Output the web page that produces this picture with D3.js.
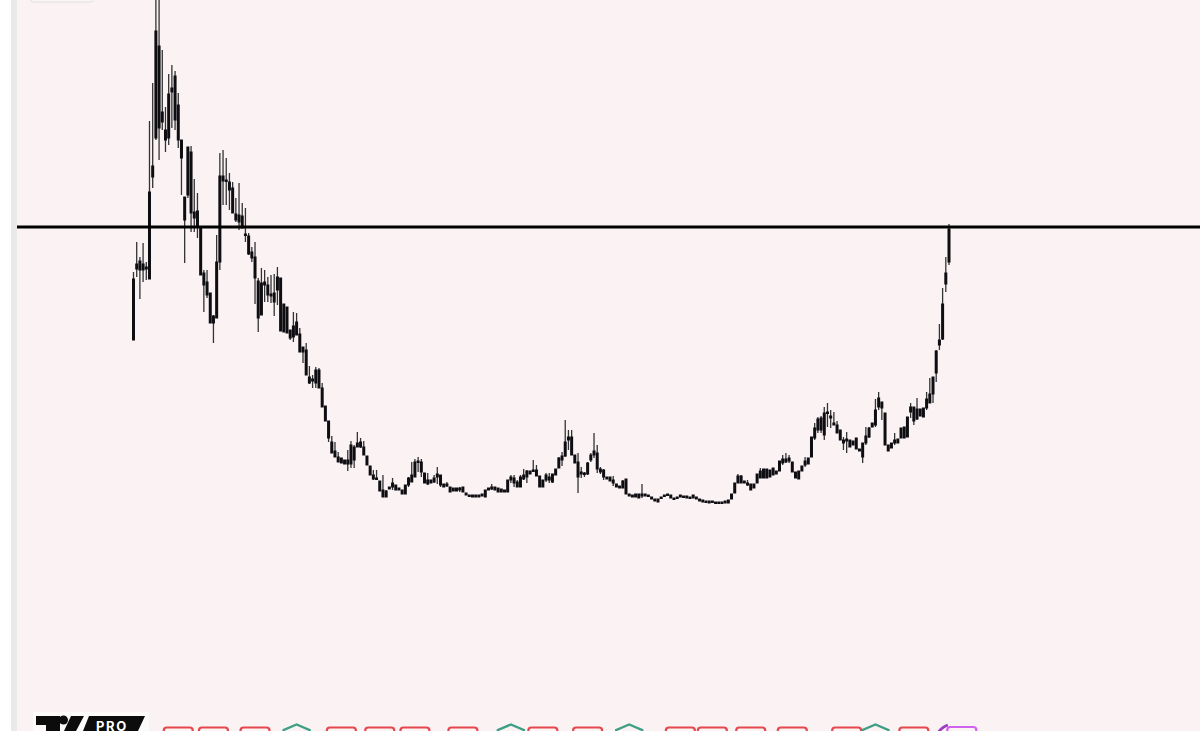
<!DOCTYPE html>
<html>
<head>
<meta charset="utf-8">
<script src="https://cdn.jsdelivr.net/npm/d3@7/dist/d3.min.js"></script>
<style>
  html, body { margin: 0; padding: 0; background: #fff; overflow: hidden; }
  svg { display: block; }
</style>
</head>
<body>
<script>
// candle values, arbitrary price units
const highs = [
  328,358,343,357,338,479,517,605,605,550,
  493,526,535,529,507,460,403,453,454,421,
  407,373,330,330,307,285,365,447,450,442,
  427,418,402,417,397,392,367,353,358,322,
  332,330,323,325,326,333,322,296,293,270,
  288,287,272,253,257,234,225,233,232,217,
  194,179,164,158,148,142,140,150,159,155,
  168,162,159,144,134,130,130,119,125,110,
  113,122,115,112,110,115,123,138,141,143,
  141,127,127,120,125,133,125,116,118,113,
  112,112,113,113,107,105,105,105,105,106,
  110,112,116,113,112,111,110,120,125,125,
  120,125,131,130,129,140,135,124,120,127,
  127,126,131,143,148,180,170,170,145,147,
  133,128,138,147,167,155,133,131,123,123,
  124,116,114,120,121,106,105,106,106,116,
  106,105,103,101,101,103,105,106,105,102,
  103,105,104,104,103,105,103,
  101,100,99,99,99,98,98,98,99,100,
  106,117,126,125,119,120,116,116,126,132,131,131,130,
  132,129,139,145,147,145,138,128,129,134,
  143,142,163,177,183,184,193,197,190,188,
  179,170,163,168,160,159,162,151,157,173,
  173,177,201,208,198,187,155,157,167,161,
  172,173,183,197,193,202,191,192,208,222,
  223,250,276,312,343,376
];
const closes = [
  321,336,339,336,333,408,434,569,554,488,
  470,506,512,524,495,460,403,453,448,388,
  389,373,327,318,307,284,338,424,424,420,
  418,412,386,385,384,366,364,348,343,319,
  317,318,315,306,307,323,322,296,293,270,
  274,278,266,253,250,223,221,230,230,212,
  194,179,158,149,143,142,140,140,155,153,
  157,158,153,144,134,125,122,119,110,109,
  113,117,115,112,110,115,122,125,138,139,
  138,127,120,120,122,126,125,116,116,113,
  112,112,112,113,107,105,105,105,105,106,
  110,112,113,113,112,111,110,120,123,122,
  118,123,125,129,129,130,130,124,120,125,
  123,126,131,142,144,158,163,163,145,138,
  128,127,137,145,149,147,131,130,123,123,
  120,116,114,119,121,106,105,106,106,106,
  106,105,103,101,101,103,105,106,105,102,
  103,105,104,104,103,105,103,
  101,100,99,99,99,98,98,98,99,100,
  106,117,124,124,119,117,116,116,126,129,131,131,130,
  132,129,139,141,141,142,138,128,129,134,
  139,142,163,172,181,182,187,188,184,177,
  175,170,160,161,160,159,162,151,157,164,
  172,177,190,202,198,187,155,157,160,161,
  172,173,183,193,193,191,191,192,201,206,
  223,249,260,296,327,371
];
const opens = [
  260,331,330,330,331,321,423,462,472,478,
  460,462,508,480,460,442,380,405,387,382,
  373,325,315,305,277,277,282,338,419,419,
  410,387,380,378,372,365,346,342,322,282,
  285,315,305,304,298,310,269,268,267,262,
  263,265,248,248,225,217,219,217,212,193,
  179,162,147,143,138,137,136,136,136,140,
  153,153,145,135,125,121,121,109,103,103,
  111,113,110,110,106,106,115,118,123,138,
  128,117,116,117,118,123,115,113,114,108,
  109,109,110,108,105,104,103,103,103,104,
  103,110,111,110,108,108,108,108,120,117,
  113,113,121,123,126,129,124,113,113,120,
  120,118,125,132,140,144,160,145,137,123,
  126,126,126,140,145,131,128,123,121,119,
  117,113,112,112,106,104,103,103,102,104,
  104,104,101,99,98,102,104,105,102,101,
  102,103,103,102,102,102,101,
  99,98,98,97,98,97,97,97,97,97,
  101,107,117,117,117,115,110,112,117,122,122,122,123,
  125,126,129,137,138,139,128,122,121,129,
  135,136,143,162,170,170,165,187,182,175,
  167,160,157,159,153,155,151,149,143,157,
  163,173,175,193,192,155,149,152,157,157,
  162,162,163,188,179,181,184,183,192,197,
  206,227,255,261,316,338
];
const lows = [
  260,323,301,318,320,321,412,460,440,470,
  448,455,472,470,452,405,337,402,368,368,
  362,325,288,302,277,257,282,330,395,395,
  390,387,378,370,372,358,345,338,296,268,
  285,298,298,297,284,295,269,268,267,260,
  258,265,248,237,225,216,212,212,212,193,
  179,158,147,143,138,137,136,129,132,132,
  153,152,145,135,125,120,120,109,103,103,
  111,110,110,110,106,106,113,118,123,128,
  123,117,115,117,117,116,113,113,113,108,
  109,109,108,108,105,104,103,103,103,104,
  103,110,110,110,108,108,108,108,117,113,
  113,113,120,117,126,129,124,113,113,118,
  117,117,125,132,134,143,150,145,137,107,
  122,123,125,138,142,127,126,120,121,119,
  114,113,112,112,106,104,103,103,102,102,
  104,104,101,99,98,102,104,105,102,101,
  102,103,103,102,102,102,101,
  99,98,98,97,98,97,97,97,97,97,
  101,107,117,117,117,114,110,112,117,122,122,122,123,
  125,126,129,135,137,137,128,122,121,129,
  133,136,143,160,167,167,160,173,172,175,
  167,160,150,147,153,155,151,149,137,155,
  162,173,173,190,180,155,149,152,155,157,
  162,162,163,182,175,180,184,183,190,197,
  197,218,250,260,308,335
];
const levelPrice = 373; // the horizontal line

// signal markers along the bottom, as candle numbers
const redMarks = [14,25,38,65,77,88,103,128,142,171,181,193,206,223,244];
const greenMarks = [51,118,155,232];
const purpleMarks = [259];

const W = 1200, H = 731;
const stripLeft = 11, plotLeft = 17;

const svg = d3.select('body').append('svg')
  .attr('width', W)
  .attr('height', H);

svg.append('rect').attr('width', W).attr('height', H).attr('fill', '#fff');
svg.append('rect').attr('x', stripLeft).attr('width', plotLeft - stripLeft).attr('height', H).attr('fill', '#e9e9e9');
svg.append('rect').attr('x', plotLeft).attr('width', W - plotLeft).attr('height', H).attr('fill', '#fbf2f3');

// small button cut off by the top edge
svg.append('rect')
  .attr('x', 30.5).attr('y', -20)
  .attr('width', 63).attr('height', 22)
  .attr('rx', 3)
  .attr('fill', '#fbf6f6')
  .attr('stroke', '#e2dfdf');

const xScale = d3.scaleLinear().domain([0, highs.length - 1]).range([133.5, 949]);
const yScale = d3.scaleLinear().domain([100, 600]).range([500, 0]);
const candles = d3.range(highs.length);

const g = svg.append('g');

g.selectAll('line.wick')
  .data(candles)
  .join('line')
  .attr('class', 'wick')
  .attr('x1', d => xScale(d))
  .attr('x2', d => xScale(d))
  .attr('y1', d => yScale(highs[d]))
  .attr('y2', d => yScale(lows[d]))
  .attr('stroke', '#333')
  .attr('stroke-width', 1.3);

g.selectAll('rect.body')
  .data(candles)
  .join('rect')
  .attr('class', 'body')
  .attr('x', d => xScale(d) - 1.5)
  .attr('y', d => yScale(closes[d]) - 0.5)
  .attr('width', 3)
  .attr('height', d => Math.max(2.5, yScale(opens[d]) - yScale(closes[d]) + 1))
  .attr('fill', '#0d0d12');

// horizontal level
svg.append('line')
  .attr('x1', plotLeft).attr('x2', W)
  .attr('y1', yScale(levelPrice)).attr('y2', yScale(levelPrice))
  .attr('stroke', '#000')
  .attr('stroke-width', 3);

// bottom markers, cut off by the window
const markTop = 727.5;
function boxMark(sel, color) {
  sel.attr('x', d => xScale(d) - 14.5)
    .attr('y', markTop)
    .attr('width', 29)
    .attr('height', 20)
    .attr('rx', 3)
    .attr('fill', '#fdf4f4')
    .attr('stroke', color)
    .attr('stroke-width', 2.2);
}
svg.selectAll('rect.red').data(redMarks).join('rect').attr('class', 'red').call(boxMark, '#e5484f');

svg.selectAll('path.green')
  .data(greenMarks)
  .join('path')
  .attr('class', 'green')
  .attr('d', d => {
    const x = xScale(d);
    return `M${x - 13},${H + 2}L${x - 13},${H - 1}L${x},${H - 6.5}L${x + 13},${H - 1}L${x + 13},${H + 2}`;
  })
  .attr('fill', '#fbf2f3')
  .attr('stroke', '#3f9f86')
  .attr('stroke-width', 2.4);

svg.selectAll('path.arc')
  .data(purpleMarks)
  .join('path')
  .attr('class', 'arc')
  .attr('d', d => {
    const x = xScale(d);
    return `M${x - 24},${H + 2}Q${x - 20},${H - 4} ${x - 14},${H - 6}`;
  })
  .attr('fill', 'none')
  .attr('stroke', '#9a3fc0')
  .attr('stroke-width', 2.6);

svg.selectAll('rect.purple').data(purpleMarks).join('rect').attr('class', 'purple').call(boxMark, '#cf62ee')
  .attr('y', markTop - 0.5);

// logo in the bottom left corner
const logo = svg.append('g');
logo.append('rect').attr('x', 33).attr('y', 712).attr('width', 116).attr('height', 20).attr('fill', '#fdfafa');
logo.append('path').attr('d', 'M36,716H60V731H46V725H36Z').attr('fill', '#0c0c0c');
logo.append('circle').attr('cx', 63.5).attr('cy', 720).attr('r', 4.5).attr('fill', '#0c0c0c');
logo.append('path').attr('d', 'M71,716H84L76,731H64Z').attr('fill', '#0c0c0c');
logo.append('path').attr('d', 'M89,716H145L138,731H83Z').attr('fill', '#0c0c0c');
logo.append('text')
  .attr('x', 96).attr('y', 731)
  .attr('font-family', 'Inter, "Noto Sans", sans-serif')
  .attr('font-weight', 700)
  .attr('font-size', 13)
  .attr('letter-spacing', 1.6)
  .attr('fill', '#fff')
  .text('PRO');
</script>
</body>
</html>
